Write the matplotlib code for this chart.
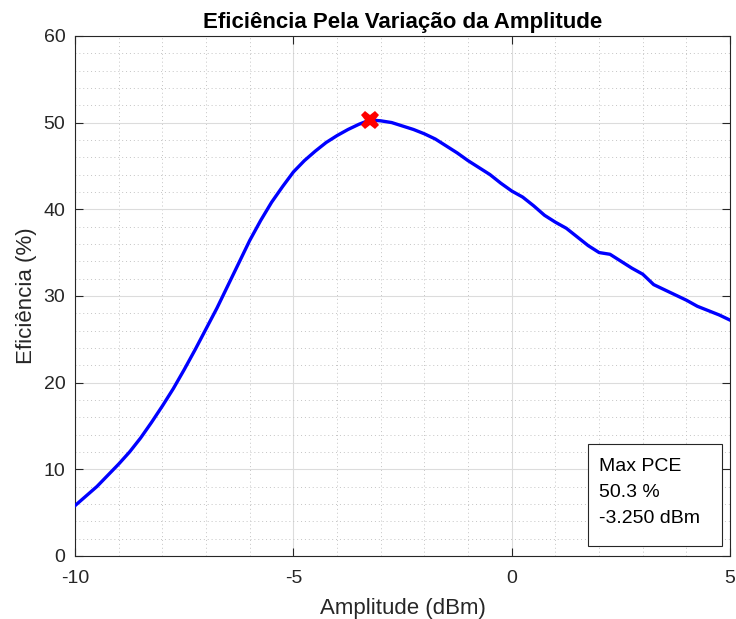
import numpy as np
import matplotlib
matplotlib.use('Agg')
import matplotlib.pyplot as plt
from matplotlib.patches import Rectangle

plt.rcParams['font.family'] = ['Liberation Sans', 'DejaVu Sans']
plt.rcParams['axes.unicode_minus'] = False

## dados (amplitude em dBm, eficiencia em %)
amplitude = [-10, -9.75, -9.5, -9.25, -9, -8.75, -8.5, -8.25, -8, -7.75,
             -7.5, -7.25, -7, -6.75, -6.5, -6.25, -6, -5.75, -5.5, -5.25,
             -5, -4.75, -4.5, -4.25, -4, -3.75, -3.5, -3.25, -3, -2.75,
             -2.5, -2.25, -2, -1.75, -1.5, -1.25, -1, -0.75, -0.5, -0.25,
             0, 0.25, 0.5, 0.75, 1, 1.25, 1.5, 1.75, 2, 2.25,
             2.5, 2.75, 3, 3.25, 3.5, 3.75, 4, 4.25, 4.5, 4.75, 5]
eficiencia = [5.8, 6.9, 8.0, 9.3, 10.6, 12.0, 13.6, 15.4, 17.3, 19.3,
              21.5, 23.8, 26.2, 28.6, 31.2, 33.8, 36.4, 38.7, 40.8, 42.6,
              44.3, 45.6, 46.7, 47.7, 48.5, 49.2, 49.8, 50.3, 50.2, 50.0,
              49.6, 49.2, 48.7, 48.1, 47.3, 46.5, 45.6, 44.8, 44.0, 43.0,
              42.1, 41.4, 40.4, 39.3, 38.5, 37.8, 36.8, 35.8, 35.0, 34.8,
              34.0, 33.2, 32.5, 31.3, 30.7, 30.1, 29.5, 28.8, 28.3, 27.8, 27.2]

max_pce = 50.3
max_amp = -3.25
caixa_linhas = ['Max PCE', '%.1f %%' % max_pce, '%.3f dBm' % max_amp]

x_ticks = [-10, -5, 0, 5]
y_ticks = [0, 10, 20, 30, 40, 50, 60]

fig = plt.figure(figsize=(7.36, 6.19), dpi=100)
ax = fig.add_axes([0.102, 0.102, 0.89, 0.84])

ax.plot(amplitude, eficiencia, color='blue', lw=2.4, zorder=3)
ax.plot(max_amp, max_pce, marker='X', color='red', markersize=13,
        markeredgewidth=0, zorder=4)

ax.set_xlim(-10, 5)
ax.set_ylim(0, 60)
ax.set_xticks(x_ticks)
ax.set_yticks(y_ticks)
ax.set_xticks(np.arange(-10, 5.1, 1), minor=True)
ax.set_yticks(np.arange(0, 60.1, 2), minor=True)

ax.grid(which='major', color='#dcdcdc', lw=0.8, ls='-')
ax.grid(which='minor', color='#c4c4c4', lw=0.7, ls=(0, (1, 3)))
ax.set_axisbelow(True)

ax.tick_params(which='both', direction='in', top=True, right=True,
               colors='#262626', labelsize=14)
ax.tick_params(which='major', length=6, width=0.8)
ax.tick_params(axis='x', which='major', pad=10)
ax.tick_params(axis='y', which='major', pad=7)
ax.tick_params(which='minor', length=0)
for s in ax.spines.values():
    s.set_color('#262626')
    s.set_linewidth(0.8)

ax.set_xlabel('Amplitude (dBm)', fontsize=16, color='#262626', labelpad=8)
ax.set_ylabel('Eficiência (%)', fontsize=16, color='#262626', labelpad=5)
ax.set_title('Eficiência Pela Variação da Amplitude', fontsize=16,
             fontweight='bold', pad=6)

## caixa de anotacao
ax.add_patch(Rectangle((0.783, 0.019), 0.205, 0.196, transform=ax.transAxes,
                       fc='white', ec='#262626', lw=0.8, zorder=5))
for i, linha in enumerate(caixa_linhas):
    ax.text(0.8, 0.163 - i * 0.05, linha, transform=ax.transAxes,
            fontsize=14, va='baseline', ha='left', zorder=6)

fig.savefig('out.png', dpi=100)
